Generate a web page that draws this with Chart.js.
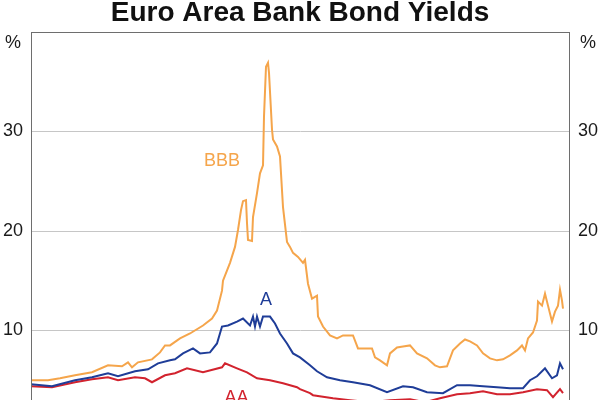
<!DOCTYPE html>
<html>
<head>
<meta charset="utf-8">
<script src="https://cdn.jsdelivr.net/npm/chart.js@4"></script>
<style>
html,body{margin:0;padding:0;background:#fff;overflow:hidden;}
#wrap{width:600px;height:460px;}
</style>
</head>
<body>
<div id="wrap"><canvas id="c" width="600" height="460"></canvas></div>
<script>
// Dates as decimal years (estimated), yields in per cent
const bbbDates = [2006.00,2006.17,2006.29,2006.44,2006.61,2006.77,2006.91,2006.97,2007.01,2007.07,2007.21,2007.29,2007.34,2007.39,2007.49,2007.59,2007.72,2007.81,2007.86,2007.91,2007.92,2007.99,2008.04,2008.07,2008.10,2008.12,2008.15,2008.16,2008.17,2008.21,2008.22,2008.26,2008.29,2008.32,2008.33,2008.35,2008.37,2008.38,2008.41,2008.42,2008.46,2008.49,2008.52,2008.56,2008.59,2008.62,2008.67,2008.72,2008.74,2008.77,2008.81,2008.86,2008.87,2008.92,2008.99,2009.06,2009.12,2009.22,2009.27,2009.36,2009.41,2009.44,2009.49,2009.56,2009.59,2009.66,2009.72,2009.79,2009.86,2009.96,2010.04,2010.09,2010.16,2010.22,2010.29,2010.34,2010.39,2010.46,2010.52,2010.59,2010.66,2010.72,2010.79,2010.86,2010.91,2010.94,2010.97,2011.02,2011.06,2011.07,2011.11,2011.14,2011.17,2011.21,2011.24,2011.27,2011.29,2011.31,2011.32];
const bbbYields = [5.0,5.0,5.2,5.5,5.8,6.5,6.4,6.8,6.3,6.8,7.1,7.8,8.5,8.5,9.2,9.7,10.5,11.2,12.0,14.0,15.0,16.8,18.4,20.1,22.1,23.0,23.1,20.8,19.1,19.0,21.4,23.8,25.8,26.6,31.5,36.5,36.9,35.9,30.2,29.2,28.5,27.5,22.4,18.9,18.4,17.8,17.4,16.8,17.1,14.7,13.2,13.5,11.4,10.4,9.5,9.2,9.5,9.5,8.2,8.2,8.2,7.3,7.0,6.5,7.7,8.3,8.4,8.5,7.7,7.2,6.5,6.3,6.4,8.0,8.7,9.1,8.9,8.5,7.7,7.2,7.0,7.1,7.5,8.0,8.5,8.0,9.2,9.8,11.0,12.9,12.5,13.7,12.5,10.9,11.9,12.5,14.1,13.0,12.2];

const aDates = [2006.00,2006.21,2006.44,2006.61,2006.77,2006.87,2007.04,2007.17,2007.27,2007.39,2007.44,2007.52,2007.62,2007.69,2007.79,2007.86,2007.91,2007.97,2008.06,2008.12,2008.19,2008.22,2008.24,2008.26,2008.29,2008.32,2008.36,2008.39,2008.44,2008.49,2008.56,2008.62,2008.69,2008.79,2008.86,2008.96,2009.09,2009.22,2009.39,2009.56,2009.72,2009.82,2009.96,2010.12,2010.26,2010.39,2010.52,2010.66,2010.79,2010.92,2010.99,2011.06,2011.14,2011.21,2011.26,2011.29,2011.32];
const aYields = [4.6,4.4,5.0,5.3,5.7,5.4,5.9,6.1,6.7,7.0,7.1,7.7,8.2,7.7,7.8,8.7,10.4,10.5,10.9,11.2,10.5,11.4,10.4,11.4,10.4,11.4,11.4,11.4,10.7,9.7,8.7,7.7,7.3,6.5,5.9,5.3,5.0,4.8,4.5,3.8,4.4,4.3,3.8,3.7,4.5,4.5,4.4,4.3,4.2,4.2,5.0,5.4,6.2,5.2,5.5,6.7,6.1];

const aaDates = [2006.00,2006.21,2006.44,2006.61,2006.77,2006.87,2007.04,2007.14,2007.21,2007.34,2007.44,2007.56,2007.72,2007.91,2007.94,2008.06,2008.16,2008.26,2008.39,2008.52,2008.66,2008.69,2008.79,2008.82,2009.02,2009.19,2009.39,2009.59,2009.79,2009.94,2010.09,2010.26,2010.39,2010.52,2010.66,2010.79,2010.92,2011.06,2011.16,2011.22,2011.29,2011.32];
const aaYields = [4.4,4.3,4.8,5.1,5.3,5.0,5.3,5.2,4.8,5.5,5.7,6.2,5.8,6.3,6.7,6.2,5.8,5.2,5.0,4.7,4.3,4.1,3.7,3.5,3.2,3.0,2.8,3.0,3.1,2.8,3.2,3.6,3.7,3.9,3.6,3.6,3.8,4.1,4.0,3.3,4.1,3.7];

const yTicks = [10, 20, 30];
const seriesNames = ['BBB', 'A', 'AA'];
const titleText = 'Euro Area Bank Bond Yields';

const COLORS = { BBB: '#f5a54b', A: '#1f3d98', AA: '#d2232e' };
const FONT = '"Liberation Sans", Arial, Helvetica, sans-serif';

function pts(xs, ys){ return xs.map((x,i)=>({x:x, y:ys[i]})); }

const labelPlugin = {
  id: 'labels',
  afterDraw(chart){
    const ctx = chart.ctx, ca = chart.chartArea;
    const xs = chart.scales.x, ys = chart.scales.y;
    ctx.save();
    // frame
    ctx.strokeStyle = '#6e6e6e';
    ctx.lineWidth = 1;
    ctx.strokeRect(Math.round(ca.left)+0.5, Math.round(ca.top)+0.5, Math.round(ca.right-ca.left)-1, Math.round(ca.bottom-ca.top));
    // title
    ctx.fillStyle = '#111';
    ctx.textAlign = 'center';
    ctx.textBaseline = 'alphabetic';
    ctx.font = 'bold 28px ' + FONT;
    ctx.fillText(titleText, 300, 21);
    // % units
    ctx.font = '18px ' + FONT;
    ctx.fillStyle = '#1a1a1a';
    ctx.textBaseline = 'middle';
    ctx.fillText('%', 13, 43);
    ctx.fillText('%', 588, 43);
    // series labels
    const lab = [
      ['BBB', 2007.91, 27.0],
      ['A', 2008.35, 13.05],
      ['AA', 2008.055, 3.25]
    ];
    lab.forEach(l => {
      ctx.fillStyle = COLORS[l[0]];
      ctx.fillText(l[0], xs.getPixelForValue(l[1]), ys.getPixelForValue(l[2]));
    });
    ctx.restore();
  }
};

const tickCb = v => yTicks.includes(v) ? String(v) : '';

new Chart(document.getElementById('c'), {
  type: 'line',
  data: {
    datasets: [
      { label: seriesNames[0], data: pts(bbbDates, bbbYields), borderColor: COLORS.BBB },
      { label: seriesNames[1], data: pts(aDates, aYields), borderColor: COLORS.A },
      { label: seriesNames[2], data: pts(aaDates, aaYields), borderColor: COLORS.AA }
    ].map(d => Object.assign(d, { borderWidth: 2, pointRadius: 0, tension: 0, fill: false }))
  },
  options: {
    responsive: false,
    animation: false,
    layout: { padding: { top: 32, bottom: 30, left: 0, right: 0 } },
    plugins: { legend: { display: false }, tooltip: { enabled: false }, title: { display: false } },
    scales: {
      x: { type: 'linear', min: 2006.0, max: 2011.39, display: false },
      y: {
        position: 'left', min: 0, max: 40,
        afterFit: s => { s.width = 31; },
        border: { display: false },
        grid: { color: '#c6c6c6', lineWidth: 1, drawTicks: false },
        ticks: { stepSize: 10, padding: 8, callback: tickCb, color: '#1a1a1a', font: { family: FONT, size: 18 } }
      },
      y2: {
        position: 'right', min: 0, max: 40,
        afterFit: s => { s.width = 30; },
        border: { display: false },
        grid: { display: false, drawTicks: false },
        ticks: { stepSize: 10, padding: 8, callback: tickCb, color: '#1a1a1a', font: { family: FONT, size: 18 } }
      }
    }
  },
  plugins: [labelPlugin]
});
</script>
</body>
</html>
